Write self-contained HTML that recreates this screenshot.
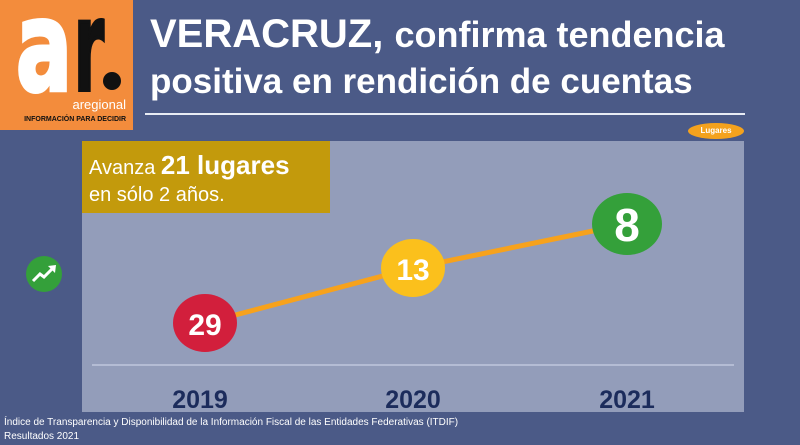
<!DOCTYPE html>
<html><head><meta charset="utf-8"><style>
body{margin:0;width:800px;height:445px;overflow:hidden;background:#4b5a87;font-family:"Liberation Sans",sans-serif;position:relative}
div{position:absolute}
</style></head><body>
<div style="left:0;top:0;width:133px;height:130px;background:#f38c3c"></div>
<svg style="position:absolute;left:0;top:0" width="133" height="100">
<text x="16" y="90" font-size="125" font-weight="bold" fill="#fff" font-family="DejaVu Sans" textLength="56" lengthAdjust="spacingAndGlyphs" stroke="#fff" stroke-width="4">a</text>
<text x="74" y="90" font-size="125" font-weight="bold" fill="#111" font-family="DejaVu Sans" textLength="30" lengthAdjust="spacingAndGlyphs" stroke="#111" stroke-width="4">r</text>
<circle cx="112" cy="81" r="9" fill="#111"/>
</svg>
<div style="left:66px;top:97px;font-size:13px;color:#fff;width:60px;text-align:right">aregional</div>
<div style="left:16px;top:116px;font-size:7px;font-weight:bold;color:#111;width:110px;text-align:right">INFORMACIÓN PARA DECIDIR</div>
<div style="left:150px;top:12px;font-size:40px;font-weight:bold;color:#fff;white-space:nowrap">VERACRUZ, <span style="font-size:36px">confirma tendencia</span></div>
<div style="left:150px;top:62px;font-size:35px;font-weight:bold;color:#fff;white-space:nowrap">positiva en rendición de cuentas</div>
<div style="left:145px;top:113px;width:600px;height:2px;background:#e8ecf4"></div>
<div style="left:688px;top:123px;width:56px;height:16px;border-radius:50%;background:#f4a21d;color:#fff;font-size:8px;font-weight:bold;text-align:center;line-height:16px">Lugares</div>
<div style="left:82px;top:141px;width:662px;height:271px;background:#939dba"></div>
<div style="left:82px;top:141px;width:248px;height:72px;background:#c39a0c"></div>
<div style="left:89px;top:150px;font-size:20px;color:#fff;white-space:nowrap">Avanza <b style="font-size:26px">21 lugares</b></div>
<div style="left:89px;top:184px;font-size:20px;color:#fff;white-space:nowrap">en sólo 2 años.</div>
<div style="left:92px;top:364px;width:642px;height:2px;background:#b4bcd4"></div>
<svg style="position:absolute;left:0;top:0" width="800" height="445">
<polyline points="205,323 413,268 627,224" fill="none" stroke="#f7a21c" stroke-width="5"/>
<ellipse cx="205" cy="323" rx="32" ry="29" fill="#d21f3c"/>
<ellipse cx="413" cy="268" rx="32" ry="29" fill="#fbc01c"/>
<ellipse cx="627" cy="224" rx="35" ry="31" fill="#34a03a"/>
<text x="205" y="335" font-size="30" font-weight="bold" fill="#fff" text-anchor="middle" font-family="Liberation Sans">29</text>
<text x="413" y="280" font-size="30" font-weight="bold" fill="#fff" text-anchor="middle" font-family="Liberation Sans">13</text>
<text x="627" y="241" font-size="46" font-weight="bold" fill="#fff" text-anchor="middle" font-family="Liberation Sans">8</text>
<circle cx="44" cy="274" r="18" fill="#34a03a"/>
<polyline points="33,281 40,274 44,277 53,268" fill="none" stroke="#fff" stroke-width="3"/>
<polygon points="48,266 56,265 55,273" fill="#fff"/>
<g font-size="25" font-weight="bold" fill="#1c2c5c" text-anchor="middle" font-family="Liberation Sans">
<text x="200" y="408">2019</text><text x="413" y="408">2020</text><text x="627" y="408">2021</text></g>
</svg>
<div style="left:4px;top:417px;font-size:10px;color:#fff;white-space:nowrap">Índice de Transparencia y Disponibilidad de la Información Fiscal de las Entidades Federativas (ITDIF)</div>
<div style="left:4px;top:431px;font-size:10px;color:#fff">Resultados 2021</div>
</body></html>
